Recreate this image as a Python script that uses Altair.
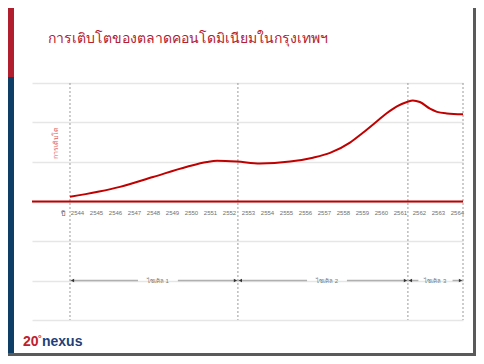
import altair as alt
import pandas as pd

# ---------------- data ----------------
TITLE = "การเติบโตของตลาดคอนโดมิเนียมในกรุงเทพฯ"
Y_LABEL = "การเติบโต"
X_LABEL = "ปี"
years = list(range(2544, 2565))

curve_year = [2543.63, 2546.26, 2548.00, 2549.79, 2550.84, 2551.37, 2552.42,
              2553.63, 2555.21, 2556.42, 2557.32, 2558.37, 2559.05, 2559.79,
              2560.32, 2560.84, 2561.37, 2561.68, 2562.05, 2562.58, 2562.95,
              2563.47, 2564.32]
curve_value = [0.12, 0.37, 0.62, 0.88, 1.00, 1.03, 1.01,
               0.96, 1.01, 1.11, 1.23, 1.49, 1.74, 2.03,
               2.24, 2.41, 2.52, 2.56, 2.52, 2.35, 2.27,
               2.23, 2.21]

cycle_bounds = [2543.63, 2552.47, 2561.42, 2564.32]
cycle_labels = ["ไซเคิล 1", "ไซเคิล 2", "ไซเคิล 3"]
cycle_label_pos = [2548.26, 2557.16, 2562.87]
cycle_gap = [1.05, 1.05, 0.90]
cycle_level = -2
baseline_value = 0
grid_values = [-3, -2, -1, 0, 1, 2, 3]

LOGO_NUM = "20"
LOGO_WORD = "nexus"

# ---------------- tables ----------------
curve_df = pd.DataFrame({"year": curve_year, "value": curve_value})
bounds_df = pd.DataFrame({"year": cycle_bounds})
zero_df = pd.DataFrame({"value": [baseline_value]})
seg_rows = []
for i in range(len(cycle_labels)):
    seg_rows.append({"year": cycle_bounds[i], "year2": cycle_label_pos[i] - cycle_gap[i], "value": cycle_level})
    seg_rows.append({"year": cycle_label_pos[i] + cycle_gap[i], "year2": cycle_bounds[i + 1], "value": cycle_level})
seg_df = pd.DataFrame(seg_rows)
left_heads = pd.DataFrame({"year": cycle_bounds[:-1], "value": [cycle_level] * 3})
right_heads = pd.DataFrame({"year": cycle_bounds[1:], "value": [cycle_level] * 3})
label_df = pd.DataFrame({"year": cycle_label_pos, "value": [cycle_level] * 3, "label": cycle_labels})
one = pd.DataFrame({"t": [""]})

FONT = "Liberation Sans"
RED = "#c00000"

xs = alt.Scale(domain=[2541.63, 2564.32], nice=False, zero=False)
ys = alt.Scale(domain=[-3, 3], nice=False, zero=False)

x_axis = alt.Axis(values=years, format="d", offset=-118.5, domain=False, ticks=False,
                  grid=False, labelPadding=8, labelFontSize=6, labelColor="#707070",
                  labelFont=FONT, labelOverlap=False, labelFlush=False,
                  title=X_LABEL, titleX=30, titleY=11.5, titleAngle=0, titleAlign="center",
                  titleBaseline="middle", titleFontSize=7, titleFontWeight="normal",
                  titleColor="#606060", titleFont=FONT)
y_axis = alt.Axis(values=grid_values, labels=False, ticks=False, domain=False, grid=True,
                  gridColor="#e6e6e6", gridWidth=1.5,
                  title=Y_LABEL, titleX=23.5, titleY=59, titleAngle=270, titleAlign="center",
                  titleBaseline="middle", titleFontSize=7, titleFontWeight="normal",
                  titleColor="#e06060", titleFont=FONT)


def X(field="year"):
    return alt.X(f"{field}:Q", scale=xs, axis=x_axis)


def Y():
    return alt.Y("value:Q", scale=ys, axis=y_axis)


# ---------------- decorations ----------------
band_red = alt.Chart(one).mark_rect(color="#b11f2e").encode(
    x=alt.value(-24), x2=alt.value(-18), y=alt.value(-75), y2=alt.value(-6))
band_blue = alt.Chart(one).mark_rect(color="#0e3d66").encode(
    x=alt.value(-24), x2=alt.value(-18), y=alt.value(-6), y2=alt.value(273))
frame_r = alt.Chart(one).mark_rect(color="#5a5a5a").encode(
    x=alt.value(441), x2=alt.value(444), y=alt.value(-75), y2=alt.value(273))
frame_b = alt.Chart(one).mark_rect(color="#5a5a5a").encode(
    x=alt.value(-24), x2=alt.value(444), y=alt.value(270), y2=alt.value(273))

title = alt.Chart(pd.DataFrame({"t": [TITLE]})).mark_text(
    align="left", baseline="alphabetic", fontSize=14, color="#b3202f", font=FONT
).encode(text="t:N", x=alt.value(16), y=alt.value(-40))

logo_num = alt.Chart(pd.DataFrame({"t": [LOGO_NUM]})).mark_text(
    align="left", baseline="alphabetic", fontSize=14, fontWeight="bold", color="#c0202e", font=FONT
).encode(text="t:N", x=alt.value(-9), y=alt.value(263))
logo_word = alt.Chart(pd.DataFrame({"t": [LOGO_WORD]})).mark_text(
    align="left", baseline="alphabetic", fontSize=14, fontWeight="bold", color="#1f3f7a", font=FONT
).encode(text="t:N", x=alt.value(10), y=alt.value(263))
logo_deg = alt.Chart(pd.DataFrame({"t": ["°"]})).mark_text(
    align="left", baseline="alphabetic", fontSize=9, fontWeight="bold", color="#c0202e", font=FONT
).encode(text="t:N", x=alt.value(6), y=alt.value(258))

# ---------------- data layers ----------------
dashed = alt.Chart(bounds_df).mark_rule(color="#9a9a9a", strokeDash=[2, 2], strokeWidth=1).encode(
    x=X())
zero = alt.Chart(zero_df).mark_rule(color=RED, strokeWidth=2).encode(y=Y())
segs = alt.Chart(seg_df).mark_rule(color="#b0b0b0", strokeWidth=1.5).encode(
    x=X(), x2="year2:Q", y=Y())
lh = alt.Chart(left_heads).mark_point(shape="triangle-left", filled=True, size=14,
                                      color="#333333", opacity=1, xOffset=2.5).encode(x=X(), y=Y())
rh = alt.Chart(right_heads).mark_point(shape="triangle-right", filled=True, size=14,
                                       color="#333333", opacity=1, xOffset=-2.5).encode(x=X(), y=Y())
labels = alt.Chart(label_df).mark_text(fontSize=6, color="#777777", font=FONT, baseline="middle").encode(
    x=X(), y=Y(), text="label:N")
curve = alt.Chart(curve_df).mark_line(color=RED, strokeWidth=2, interpolate="monotone").encode(
    x=X(), y=Y())

chart = alt.layer(
    band_red, band_blue, frame_r, frame_b, title,
    dashed, zero, segs, lh, rh, labels, curve,
    logo_num, logo_deg, logo_word,
).properties(
    width=431, height=237,
    autosize="none",
    padding={"left": 24, "top": 75, "right": 13, "bottom": 36},
    background="white",
).configure_view(strokeWidth=0)

chart.save("out.html", embed_options={"renderer": "svg", "actions": False})
